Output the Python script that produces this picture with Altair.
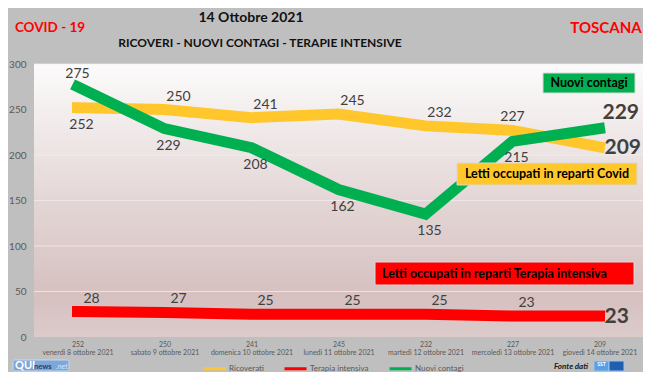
import altair as alt
import pandas as pd

# ---- data ----
giorni = [
    "venerdì 8 ottobre 2021",
    "sabato 9 ottobre 2021",
    "domenica 10 ottobre 2021",
    "lunedì 11 ottobre 2021",
    "martedì 12 ottobre 2021",
    "mercoledì 13 ottobre 2021",
    "giovedì 14 ottobre 2021",
]
ricoverati = [252, 250, 241, 245, 232, 227, 209]
terapia = [28, 27, 25, 25, 25, 23, 23]
contagi = [275, 229, 208, 162, 135, 215, 229]
serie = ["Ricoverati", "Terapia intensiva", "Nuovi contagi"]
colori = ["#FFC72C", "#FF0000", "#00B050"]
griglia = [50, 100, 150, 200, 250, 300]
tick_y = [0, 50, 100, 150, 200, 250, 300]

# label placement (style only)
pos_ric = ["sotto", "sopra", "sopra", "sopra", "sopra", "sopra_c", "fine"]
pos_ter = ["sopra", "sopra", "sopra", "sopra", "sopra", "sopra", "fine"]
pos_con = ["sopra_c", "sotto", "sotto", "sotto", "sotto", "sotto", "fine_sopra"]

categorie = [f"{r}|{g}" for r, g in zip(ricoverati, giorni)]

rows = []
for s, vals, poss in zip(serie, [ricoverati, terapia, contagi], [pos_ric, pos_ter, pos_con]):
    for c, v, p in zip(categorie, vals, poss):
        rows.append({"serie": s, "cat": c, "valore": v, "pos": p})
df = pd.DataFrame(rows)

W, H = 609, 273
FONT = "Lato"
TXT = "#404040"

xenc = alt.X(
    "cat:N",
    sort=categorie,
    scale=alt.Scale(type="point", padding=0.5),
    axis=alt.Axis(
        title=None, labelAngle=0, ticks=False, domain=False, grid=False,
        labelExpr="split(datum.label, '|')", labelFontSize=7, labelLineHeight=8.5,
        labelColor="#595959", labelPadding=3, labelFont=FONT,
    ),
)
yscale = alt.Scale(domain=[0, 300], nice=False)
yaxis = alt.Axis(
    title=None, values=tick_y, ticks=False, domain=False,
    grid=False, labelFontSize=10,
    labelColor="#595959", labelPadding=8, labelFont=FONT,
)
yenc = alt.Y("valore:Q", scale=yscale, axis=yaxis)
colenc = alt.Color(
    "serie:N",
    scale=alt.Scale(domain=serie, range=colori),
    legend=alt.Legend(
        orient="none", legendX=168, legendY=292, direction="horizontal", title=None,
        symbolType="stroke", symbolStrokeWidth=3, symbolSize=484, labelFontSize=8,
        labelColor="#595959", columnPadding=14, labelOffset=2, labelFont=FONT,
        padding=0,
    ),
)

one = alt.Data(values=[{}])

sfondo = alt.Chart(one).mark_rect(
    fill=alt.LinearGradient(
        gradient="linear", x1=0, x2=0, y1=0, y2=1,
        stops=[
            alt.GradientStop(color="#fcfbfb", offset=0),
            alt.GradientStop(color="#e4d6d6", offset=0.5),
            alt.GradientStop(color="#d6c0c0", offset=0.85),
            alt.GradientStop(color="#dccbcb", offset=1),
        ],
    )
).encode(x=alt.value(0), x2=alt.value(W), y=alt.value(0), y2=alt.value(H))

grid = alt.Chart(pd.DataFrame({"valore": griglia})).mark_rule(
    color="#f4efef", strokeWidth=1, opacity=0.7
).encode(y=yenc)

base = alt.Chart(df)


def linea(nome):
    return base.transform_filter(alt.datum.serie == nome).mark_line(
        strokeWidth=11, strokeCap="square", strokeJoin="miter"
    ).encode(x=xenc, y=yenc, color=colenc)


lines = [linea("Terapia intensiva"), linea("Ricoverati"), linea("Nuovi contagi")]


def etichette(pos, **kw):
    return base.transform_filter(alt.datum.pos == pos).mark_text(
        color=TXT, font=FONT, **kw
    ).encode(x=xenc, y=yenc, text="valore:Q")


labels = [
    etichette("sopra", dx=14, dy=-13, fontSize=14),
    etichette("sopra_c", dx=0, dy=-13, fontSize=14),
    etichette("sotto", dx=4, dy=17, fontSize=14),
    etichette("fine", align="left", dx=5, dy=1, fontSize=21, fontWeight="bold"),
    etichette("fine_sopra", align="left", dx=3, dy=-16, fontSize=21, fontWeight="bold"),
]


def box(x1, x2, y1, y2, fill, stroke="#d9d9d9", r=0):
    return alt.Chart(one).mark_rect(
        fill=fill, stroke=stroke, strokeWidth=1, cornerRadius=r
    ).encode(x=alt.value(x1), x2=alt.value(x2), y=alt.value(y1), y2=alt.value(y2))


def testo(t, x, y, size, color="#000000", weight="bold", align="center", style="normal"):
    return alt.Chart(one).mark_text(
        text=t, fontSize=size, fontWeight=weight, color=color, align=align,
        baseline="middle", font=FONT, fontStyle=style,
    ).encode(x=alt.value(x), y=alt.value(y))


annot = [
    box(509, 601, 9, 29, "#00B050"),
    testo("Nuovi contagi", 555, 19, 12.5),
    box(423, 603, 99, 121, "#FFC72C"),
    testo("Letti occupati in reparti Covid", 513, 110, 12.5),
    box(341, 600, 198, 221, "#FF0000"),
    testo("Letti occupati in reparti Terapia intensiva", 348, 209.5, 12.5, align="left"),
    # header
    testo("COVID - 19", 16, -36, 13.5, color="#FF0000"),
    testo("14 Ottobre 2021", 217, -46, 14, color="#111111"),
    testo("RICOVERI - NUOVI CONTAGI - TERAPIE INTENSIVE", 226, -21, 12, color="#111111"),
    testo("TOSCANA", 572, -36, 15, color="#FF0000"),
    # footer
    box(-21, 35, 296, 307, "#7fa6d8", stroke="#c8d8ee", r=2),
    testo("QUI", -19, 302, 11, color="#ffffff", align="left"),
    testo("news", 0, 302.5, 7.5, color="#1d3f73", align="left"),
    testo(".net", 22, 302.5, 7, color="#d6e6f8", align="left", weight="normal"),
    testo("Fonte dati", 537, 303, 8, color="#202020", style="italic"),
    box(560, 575, 297, 307, "#5aa0e0", stroke="#9cc3ea"),
    box(575, 590, 297, 307, "#1f5fae", stroke="#9cc3ea"),
    testo("SST", 567.5, 300, 5, color="#ffffff"),
]

chart = alt.layer(
    sfondo, grid, *lines, *labels, *annot
).properties(
    width=W, height=H,
    autosize=alt.AutoSizeParams(type="none"),
    padding={"left": 26, "top": 56, "right": 0, "bottom": 35},
).configure(
    background="#bfbfbf",
).configure_view(
    stroke=None,
)

chart.save("out.html", embed_options={"renderer": "svg", "actions": False})
